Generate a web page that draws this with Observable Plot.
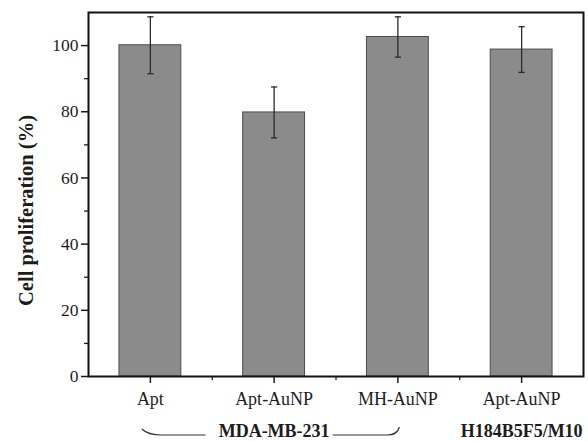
<!DOCTYPE html>
<html>
<head>
<meta charset="utf-8">
<script src="https://cdn.jsdelivr.net/npm/d3@7"></script>
<script src="https://cdn.jsdelivr.net/npm/@observablehq/plot@0.6"></script>
<style>
  html, body { margin: 0; padding: 0; background: #fff; }
  #chart svg { display: block; }
</style>
</head>
<body>
<div id="chart"></div>
<script>
// ---- data ----
const categories = ["Apt", "Apt-AuNP", "MH-AuNP", "Apt-AuNP"];
const values = [100.1, 79.8, 102.6, 98.8];
const errors = [8.6, 7.7, 6.1, 6.9];
const yTicks = [0, 20, 40, 60, 80, 100];
const yMinorTicks = [10, 30, 50, 70, 90];
const groupLabels = ["MDA-MB-231", "H184B5F5/M10"];
const groupFrom = [1, 3];   // 1-based category positions
const groupTo = [3, 4];
const groupBrace = [true, false];
const yLabel = "Cell proliferation (%)";

const data = categories.map((c, k) => ({
  pos: k + 1, name: c, value: values[k], err: errors[k]
}));
const groups = groupLabels.map((g, k) => ({
  label: g,
  from: groupBrace[k] ? groupFrom[k] : groupTo[k],
  to: groupTo[k],
  brace: groupBrace[k]
}));
const majorX = data.map(d => d.pos);
const minorX = majorX.slice(0, -1).map(p => p + 0.5);

const ink = "#1c1c1c";
const half = 0.25;   // half bar width in category units
const cap = 0.025;

function braceMark(index, scales) {
  const g = d3.create("svg:g")
    .attr("fill", "none")
    .attr("stroke", "#333")
    .attr("stroke-width", 1.2);
  const y0 = scales.y(0);
  for (const grp of groups) {
    if (!grp.brace) continue;
    const a = scales.x(grp.from), b = scales.x(grp.to), c = (a + b) / 2;
    const yl = y0 + 59;
    g.append("path").attr("d",
      `M${a - 8},${y0 + 53} Q${a - 2},${yl} ${a + 12},${yl} L${c - 68},${yl}` +
      ` M${c + 59},${yl} L${b - 10},${yl} Q${b},${yl} ${b + 2},${y0 + 51}`);
  }
  return g.node();
}

const chart = Plot.plot({
  width: 588,
  height: 441,
  marginLeft: 88,
  marginRight: 5,
  marginTop: 12,
  marginBottom: 65,
  style: {
    fontFamily: "'Liberation Serif', 'Times New Roman', serif",
    fontSize: "17px",
    color: ink,
    background: "#fff"
  },
  x: { domain: [0.5, 4.5], axis: null },
  y: { domain: [0, 110], axis: null },
  marks: [
    Plot.rectY(data, {
      x1: d => d.pos - half, x2: d => d.pos + half, y1: 0, y2: "value",
      fill: "#8b8b8b", stroke: "#4d4d4d", strokeWidth: 1
    }),
    Plot.ruleX(data, {
      x: "pos", y1: d => d.value - d.err, y2: d => d.value + d.err,
      stroke: "#2a2a2a", strokeWidth: 1.3
    }),
    Plot.link(data, {
      x1: d => d.pos - cap, x2: d => d.pos + cap,
      y1: d => d.value + d.err, y2: d => d.value + d.err,
      stroke: "#2a2a2a", strokeWidth: 1.3
    }),
    Plot.link(data, {
      x1: d => d.pos - cap, x2: d => d.pos + cap,
      y1: d => d.value - d.err, y2: d => d.value - d.err,
      stroke: "#2a2a2a", strokeWidth: 1.3
    }),
    // y axis
    Plot.axisY({
      ticks: yTicks, tickSize: 7, tickPadding: 3, label: null,
      fontSize: 17.5, stroke: ink, strokeWidth: 1.5, fill: ink
    }),
    Plot.axisY({
      ticks: yMinorTicks, tickSize: 4, tickFormat: () => "", label: null,
      stroke: ink, strokeWidth: 1.3
    }),
    // x axis
    Plot.axisX({
      ticks: majorX, tickSize: 7, tickPadding: 9, label: null,
      tickFormat: p => categories[p - 1],
      fontSize: 18, stroke: ink, strokeWidth: 1.5, fill: ink
    }),
    Plot.axisX({
      ticks: minorX, tickSize: 4, tickFormat: () => "", label: null,
      stroke: ink, strokeWidth: 1.3
    }),
    Plot.frame({ stroke: "#111", strokeWidth: 2 }),
    // y axis title
    Plot.text([yLabel], {
      text: d => d, frameAnchor: "left", rotate: -90, dx: -62, dy: 16,
      fontSize: 20.5, fontWeight: "bold", fill: ink, textAnchor: "middle"
    }),
    // group labels
    Plot.text(groups, {
      x: d => (d.from + d.to) / 2, text: "label", frameAnchor: "bottom",
      dy: 60, fontSize: 18, fontWeight: "bold", fill: ink
    }),
    braceMark
  ]
});

document.getElementById("chart").appendChild(chart);
</script>
</body>
</html>
